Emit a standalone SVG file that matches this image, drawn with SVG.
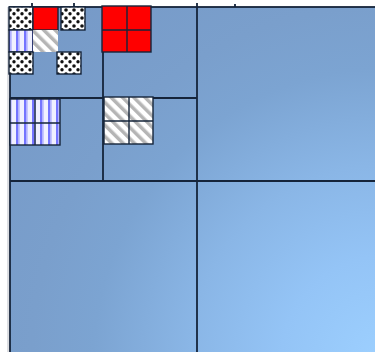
<svg xmlns="http://www.w3.org/2000/svg" width="375" height="352" viewBox="0 0 375 352">
  <defs>
    <radialGradient id="bg" gradientUnits="userSpaceOnUse" cx="385" cy="360" r="520">
      <stop offset="0" stop-color="#9dd0ff"/>
      <stop offset="0.2" stop-color="#94c4f6"/>
      <stop offset="0.375" stop-color="#8ab6e6"/>
      <stop offset="0.56" stop-color="#7ca4d2"/>
      <stop offset="0.68" stop-color="#7a9fcc"/>
      <stop offset="1" stop-color="#7598c6"/>
    </radialGradient>
    <pattern id="dots" patternUnits="userSpaceOnUse" width="8" height="8">
      <rect width="8" height="8" fill="#ffffff"/>
      <circle cx="2" cy="2" r="1.8" fill="#111"/>
      <circle cx="6" cy="5.8" r="1.7" fill="#111"/>
    </pattern>
    <pattern id="stripes" patternUnits="userSpaceOnUse" width="8" height="8">
      <rect width="8" height="8" fill="#f0f0ff"/>
      <rect x="0" width="2.5" height="8" fill="#7474ff"/>
      <rect x="2.5" width="1.2" height="8" fill="#b4b4ff"/>
    </pattern>
    <pattern id="hatch" patternUnits="userSpaceOnUse" width="8" height="8" patternTransform="rotate(-45)">
      <rect width="8" height="8" fill="#ffffff"/>
      <rect x="0" width="3.5" height="8" fill="#b5b5b5"/>
    </pattern>
    <style>
      .ln{stroke:#15243a;stroke-width:1.8;fill:none}
      .tile{stroke:#15243a;stroke-width:1.4}
      .dots{fill:url(#dots)}
      .stripes{fill:url(#stripes)}
      .hatch{fill:url(#hatch)}
      .red{fill:#ff0000}
    </style>
  </defs>
  <rect width="375" height="352" fill="#ffffff"/>
  <g id="background">
    <rect x="10" y="7" width="380" height="350" fill="url(#bg)"/>
    <line x1="8" y1="7" x2="8" y2="352" stroke="#b8bcc4" stroke-width="1"/>
  </g>
  <g id="connectors">
    <rect class="ln" x="10" y="7" width="380" height="350"/>
    <line class="ln" x1="197" y1="3" x2="197" y2="352"/>
    <line class="ln" x1="10" y1="181" x2="375" y2="181"/>
    <line class="ln" x1="103" y1="7" x2="103" y2="181"/>
    <line class="ln" x1="10" y1="98" x2="197" y2="98"/>
    <line class="ln" x1="32" y1="3" x2="32" y2="7"/>
    <line class="ln" x1="74" y1="3" x2="74" y2="7"/>
    <line class="ln" x1="235" y1="4" x2="235" y2="7"/>
  </g>
  <g id="tile-dots-1"><rect class="tile dots" x="9" y="7" width="24" height="23"/></g>
  <g id="tile-red-1"><rect class="tile red" x="33" y="7" width="25" height="23"/></g>
  <g id="tile-dots-2"><rect class="tile dots" x="61" y="7" width="24" height="23"/></g>
  <g id="tile-stripes-1"><rect class="tile stripes" x="9" y="30" width="24" height="22"/></g>
  <g id="tile-hatch-1"><rect class="hatch" x="33" y="30" width="25" height="22"/></g>
  <g id="tile-dots-3"><rect class="tile dots" x="9" y="52" width="24" height="22"/></g>
  <g id="tile-dots-4"><rect class="tile dots" x="57" y="52" width="24" height="22"/></g>
  <g id="block-red">
    <rect class="tile red" x="102" y="6" width="49" height="46"/>
    <line class="tile" x1="127" y1="6" x2="127" y2="52"/>
    <line class="tile" x1="102" y1="30" x2="151" y2="30"/>
  </g>
  <g id="block-stripes">
    <rect class="tile stripes" x="10" y="99" width="50" height="46"/>
    <line class="tile" x1="35" y1="99" x2="35" y2="145"/>
    <line class="tile" x1="10" y1="123" x2="60" y2="123"/>
  </g>
  <g id="block-hatch">
    <rect class="tile hatch" x="104" y="97" width="49" height="47"/>
    <line class="tile" x1="129" y1="97" x2="129" y2="144"/>
    <line class="tile" x1="104" y1="121" x2="153" y2="121"/>
  </g>
</svg>
